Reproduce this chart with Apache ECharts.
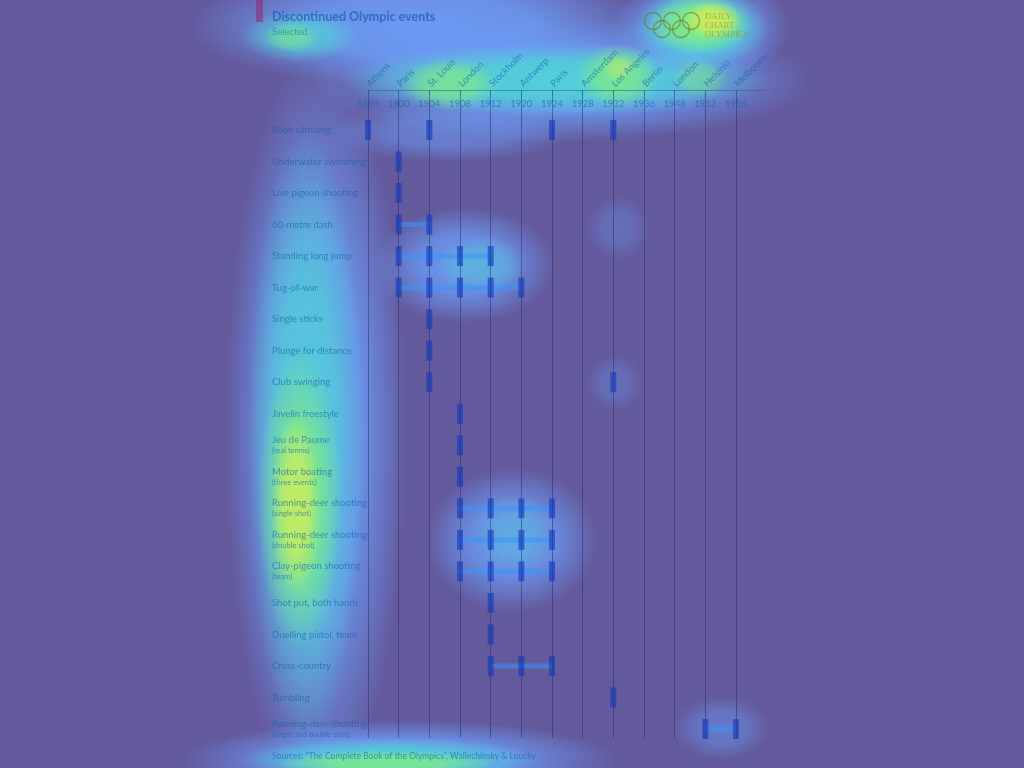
<!DOCTYPE html>
<html>
<head>
<meta charset="utf-8">
<script src="https://cdn.jsdelivr.net/npm/echarts@6/dist/echarts.min.js"></script>
<style>html,body{margin:0;padding:0;background:#635a9e}#c{width:1024px;height:768px}</style>
</head>
<body>
<div id="c"></div>
<script>
// ---- data ----
const years = ['1896','1900','1904','1908','1912','1920','1924','1928','1932','1936','1948','1952','1956'];
const cities = ['Athens','Paris','St. Louis','London','Stockholm','Antwerp','Paris','Amsterdam','Los Angeles','Berlin','London','Helsinki','Melbourne'];
const eventNames = ['Rope climbing','Underwater swimming','Live pigeon shooting','60-metre dash','Standing long jump','Tug-of-war','Single sticks','Plunge for distance','Club swinging','Javelin freestyle','Jeu de Paume','Motor boating','Running-deer shooting','Running-deer shooting','Clay-pigeon shooting','Shot put, both hands','Duelling pistol, team','Cross-country','Tumbling','Running-deer shooting'];
const eventNotes = ['','','','','','','','','','','(real tennis)','(three events)','(single shot)','(double shot)','(team)','','','','','(single and double shot)'];
const eventYears = [
  ['1896','1904','1924','1932'],
  ['1900'],
  ['1900'],
  ['1900','1904'],
  ['1900','1904','1908','1912'],
  ['1900','1904','1908','1912','1920'],
  ['1904'],
  ['1904'],
  ['1904','1932'],
  ['1908'],
  ['1908'],
  ['1908'],
  ['1908','1912','1920','1924'],
  ['1908','1912','1920','1924'],
  ['1908','1912','1920','1924'],
  ['1912'],
  ['1912'],
  ['1912','1920','1924'],
  ['1932'],
  ['1952','1956']
];
const titleText = 'Discontinued Olympic events';
const subtitleText = 'Selected';
const sourceText = 'Sources: \u201cThe Complete Book of the Olympics\u201d, Wallechinsky & Loucky';
const logoText = 'DAILY\nCHART\nOLYMPICS';

// ---- derived ----
const xCats = years.concat(['']);
const cityCats = cities.concat(['']);
const yLabels = eventNames.map((n, i) => eventNotes[i] ? '{a|' + n + '}\n{b|' + eventNotes[i] + '}' : '{a|' + n + '}');
const marks = [];
const links = [];
eventYears.forEach((ys, row) => {
  ys.forEach((y, k) => {
    const idx = years.indexOf(y);
    marks.push([idx, row]);
    if (k > 0) {
      const prev = years.indexOf(ys[k - 1]);
      if (idx - prev === 1) links.push([prev, idx, row]);
    }
  });
});

// ---- heat overlay look (styling only) ----
const BL = '108,158,248', CY = '78,214,214', GR = '128,236,132', YE = '212,238,88';
const blobs = [
  // blue
  [420,26,230,62,BL,.95],[560,80,250,62,BL,.95],[316,430,90,375,BL,.95],
  [400,760,215,40,BL,.95],[465,265,90,58,BL,.85],[512,540,85,72,BL,.85],
  [450,132,120,30,BL,.55],[722,728,48,32,BL,.45],[700,28,90,55,BL,.95],
  [618,228,32,32,BL,.3],[615,383,28,28,BL,.3],
  // cyan
  [700,28,68,40,CY,.95],[555,80,215,36,CY,.9],[306,440,58,310,CY,.8],
  [300,36,60,26,CY,.7],[390,760,150,22,CY,.85],[480,265,45,28,CY,.45],[515,535,40,40,CY,.35],
  // green
  [700,24,52,30,GR,.95],[450,84,50,26,GR,.75],[618,76,42,32,GR,.8],[700,78,28,20,GR,.5],
  [300,500,42,150,GR,.85],[385,763,110,13,GR,.85],[292,37,28,15,GR,.55],
  // yellow
  [712,20,30,19,YE,.85],[296,505,25,90,YE,.8],[618,68,16,13,YE,.4]
];
const blobGraphics = blobs.map(b => ({
  type: 'circle', silent: true, z: 1,
  x: b[0], y: b[1], scaleX: b[2] / 100, scaleY: b[3] / 100,
  shape: { cx: 0, cy: 0, r: 100 },
  style: { fill: { type: 'radial', x: 0.5, y: 0.5, r: 0.5, colorStops: [
    { offset: 0, color: 'rgba(' + b[4] + ',' + b[5] + ')' },
    { offset: 0.5, color: 'rgba(' + b[4] + ',' + (b[5] * 0.85) + ')' },
    { offset: 0.8, color: 'rgba(' + b[4] + ',' + (b[5] * 0.35) + ')' },
    { offset: 1, color: 'rgba(' + b[4] + ',0)' } ] } }
}));

const FONT = 'Lato';
const textCol = 'rgba(25,95,175,0.62)';
const ringCol = 'rgba(120,110,40,0.6)';
const rings = [[653,21],[672,21],[691,21],[662,29],[681,29]].map(p => ({
  type: 'circle', silent: true, z: 20, shape: { cx: p[0], cy: p[1], r: 8.5 },
  style: { fill: 'none', stroke: ringCol, lineWidth: 1.3 }
}));

const chart = echarts.init(document.getElementById('c'));
chart.setOption({
  backgroundColor: '#635a9e',
  animation: false,
  textStyle: { fontFamily: FONT },
  title: {
    text: titleText, subtext: subtitleText, left: 272, top: 10, padding: 0, itemGap: 4, z: 20,
    textStyle: { fontFamily: FONT, fontSize: 12.5, fontWeight: 'bold', color: 'rgba(20,85,170,0.65)' },
    subtextStyle: { fontFamily: FONT, fontSize: 9.5, color: 'rgba(20,120,160,0.6)' }
  },
  graphic: blobGraphics.concat([
    { type: 'rect', silent: true, z: 20, shape: { x: 256, y: 0, width: 7, height: 22 }, style: { fill: 'rgba(150,20,90,0.45)' } },
    { type: 'text', silent: true, z: 20, x: 272, y: 756, style: { text: sourceText, font: '8.5px Lato', fill: textCol, verticalAlign: 'middle' } },
    { type: 'text', silent: true, z: 20, x: 705, y: 26, style: { text: logoText, font: '8.8px "Liberation Serif"', lineHeight: 9, fill: 'rgba(170,130,30,0.6)', align: 'left', verticalAlign: 'middle' } }
  ]).concat(rings),
  grid: [
    { left: 368, width: 398.7, top: 90, bottom: 30 },
    { left: 368, width: 398.7, top: 114.2, bottom: 23.2 }
  ],
  xAxis: [
    {
      gridIndex: 0, type: 'category', data: xCats, position: 'top', boundaryGap: false, z: 10,
      axisLine: { show: true, onZero: false, lineStyle: { color: 'rgba(30,110,130,0.55)', width: 1 } },
      axisTick: { show: true, inside: true, length: 5, interval: (i, v) => v !== '', lineStyle: { color: 'rgba(30,110,130,0.55)' } },
      axisLabel: { inside: true, margin: 9, interval: 0, fontSize: 9.5, color: textCol, fontFamily: FONT },
      splitLine: { show: true, interval: (i, v) => v !== '', lineStyle: { color: 'rgba(35,30,95,0.45)', width: 1 } }
    },
    {
      gridIndex: 1, type: 'category', data: cityCats, position: 'top', offset: 24.2, boundaryGap: false, z: 10,
      axisLine: { show: false, onZero: false }, axisTick: { show: false }, splitLine: { show: false },
      axisLabel: { rotate: -45, margin: 5, interval: 0, fontSize: 9.5, color: textCol, fontFamily: FONT }
    }
  ],
  yAxis: [
    { gridIndex: 0, type: 'value', show: false },
    {
      gridIndex: 1, type: 'category', data: yLabels, inverse: true, boundaryGap: true, z: 10,
      axisLine: { show: false }, axisTick: { show: false }, splitLine: { show: false },
      axisLabel: {
        margin: 96, align: 'left', interval: 0, color: textCol,
        rich: {
          a: { fontSize: 9.5, fontFamily: FONT, color: textCol, lineHeight: 11 },
          b: { fontSize: 7.5, fontFamily: FONT, color: textCol, lineHeight: 10 }
        }
      }
    }
  ],
  series: [
    {
      type: 'custom', xAxisIndex: 1, yAxisIndex: 1, data: links, z: 11,
      renderItem: (params, api) => {
        const p1 = api.coord([api.value(0), api.value(2)]);
        const p2 = api.coord([api.value(1), api.value(2)]);
        return { type: 'rect', shape: { x: p1[0], y: p1[1] - 2.5, width: p2[0] - p1[0], height: 5 }, style: { fill: 'rgba(55,150,255,0.55)' } };
      }
    },
    {
      type: 'scatter', xAxisIndex: 1, yAxisIndex: 1, data: marks, z: 12,
      symbol: 'rect', symbolSize: [6, 20],
      itemStyle: { color: 'rgba(15,55,185,0.6)', opacity: 1 }
    }
  ]
});
</script>
</body>
</html>
